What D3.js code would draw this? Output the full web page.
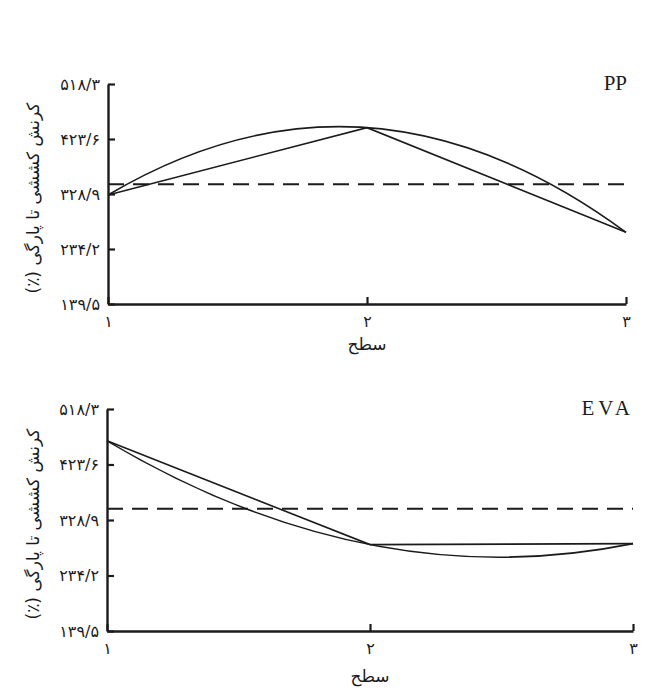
<!DOCTYPE html>
<html>
<head>
<meta charset="utf-8">
<script src="https://cdn.jsdelivr.net/npm/d3@7"></script>
<style>
  html, body { margin: 0; padding: 0; background: #fff; }
  svg { display: block; }
</style>
</head>
<body>
<svg id="chart" width="645" height="691"></svg>
<script>
// ---- data ----
const levels = [1, 2, 3];
const xTickLabels = ["۱", "۲", "۳"];
const yTickValues = [139.5, 234.2, 328.9, 423.6, 518.3];
const yTickLabels = ["۱۳۹/۵", "۲۳۴/۲", "۳۲۸/۹", "۴۲۳/۶", "۵۱۸/۳"];
const panelNames = ["PP", "EVA"];
const ppValues = [327.2, 443.1, 263.0];
const evaValues = [464.0, 286.9, 288.6];
const ppReference = 345.6;
const evaReference = 348.1;
const yTitle = "کرنش کششی تا پارگی (٪)";
const xTitle = "سطح";

// ---- layout ----
const svg = d3.select("#chart");
const ink = "#1b1b1b";
const persianFont = "'DejaVu Sans', sans-serif";

const panels = [
  { name: panelNames[0], values: ppValues, ref: ppReference, x0: 108, x1: 626, y0: 84, y1: 304, titleY: 344 },
  { name: panelNames[1], values: evaValues, ref: evaReference, x0: 107, x1: 633, y0: 409, y1: 631, titleY: 676 }
];

panels.forEach(p => {
  const x = d3.scaleLinear().domain([1, 3]).range([p.x0, p.x1]);
  const y = d3.scaleLinear().domain([139.5, 518.3]).range([p.y1, p.y0]);
  const g = svg.append("g");

  // reference dashed line
  g.append("line")
    .attr("x1", x(1)).attr("x2", x(3))
    .attr("y1", y(p.ref)).attr("y2", y(p.ref))
    .attr("stroke", ink).attr("stroke-width", 2)
    .attr("stroke-dasharray", "16,9");

  // straight polyline
  const pts = levels.map((l, i) => [l, p.values[i]]);
  g.append("path")
    .datum(pts)
    .attr("fill", "none").attr("stroke", ink).attr("stroke-width", 1.6)
    .attr("d", d3.line().x(d => x(d[0])).y(d => y(d[1])));

  // quadratic trend curve through the three points
  const v = p.values;
  const ctrl = 2 * v[1] - (v[0] + v[2]) / 2;
  const path = d3.path();
  path.moveTo(x(levels[0]), y(v[0]));
  path.quadraticCurveTo(x(levels[1]), y(ctrl), x(levels[2]), y(v[2]));
  g.append("path")
    .attr("d", path.toString())
    .attr("fill", "none").attr("stroke", ink).attr("stroke-width", 1.6);

  // y axis
  const ya = g.append("g")
    .attr("transform", `translate(${p.x0},0)`)
    .call(d3.axisLeft(y).tickValues(yTickValues)
      .tickFormat((d, i) => yTickLabels[i])
      .tickSizeInner(-7).tickSizeOuter(0).tickPadding(8));
  // x axis
  const xa = g.append("g")
    .attr("transform", `translate(0,${p.y1})`)
    .call(d3.axisBottom(x).tickValues(levels)
      .tickFormat((d, i) => xTickLabels[i])
      .tickSizeInner(-7).tickSizeOuter(0).tickPadding(12));

  [ya, xa].forEach(a => {
    a.select(".domain").attr("stroke", ink).attr("stroke-width", 2.4);
    a.selectAll(".tick line").attr("stroke", ink).attr("stroke-width", 2.2);
    a.selectAll(".tick text").attr("fill", ink)
      .style("font-family", persianFont).style("font-size", "16px");
  });

  // panel name
  g.append("text")
    .attr("x", p.x1 + 1).attr("y", p.y0 + 6)
    .attr("text-anchor", "end")
    .style("font-family", "'Liberation Serif', serif")
    .style("font-size", "21px")
    .style("letter-spacing", p.name === "EVA" ? "4px" : "0px")
    .attr("fill", ink)
    .text(p.name);

  // y title
  g.append("text")
    .attr("transform", `translate(33,${(p.y0 + p.y1) / 2 + 4}) rotate(-90)`)
    .attr("text-anchor", "middle")
    .attr("dominant-baseline", "central")
    .attr("direction", "rtl")
    .style("font-family", persianFont)
    .style("font-size", "17px")
    .attr("fill", ink)
    .text(yTitle);

  // x title
  g.append("text")
    .attr("x", x(2)).attr("y", p.titleY)
    .attr("text-anchor", "middle")
    .attr("dominant-baseline", "central")
    .attr("direction", "rtl")
    .style("font-family", persianFont)
    .style("font-size", "17px")
    .attr("fill", ink)
    .text(xTitle);
});
</script>
</body>
</html>
